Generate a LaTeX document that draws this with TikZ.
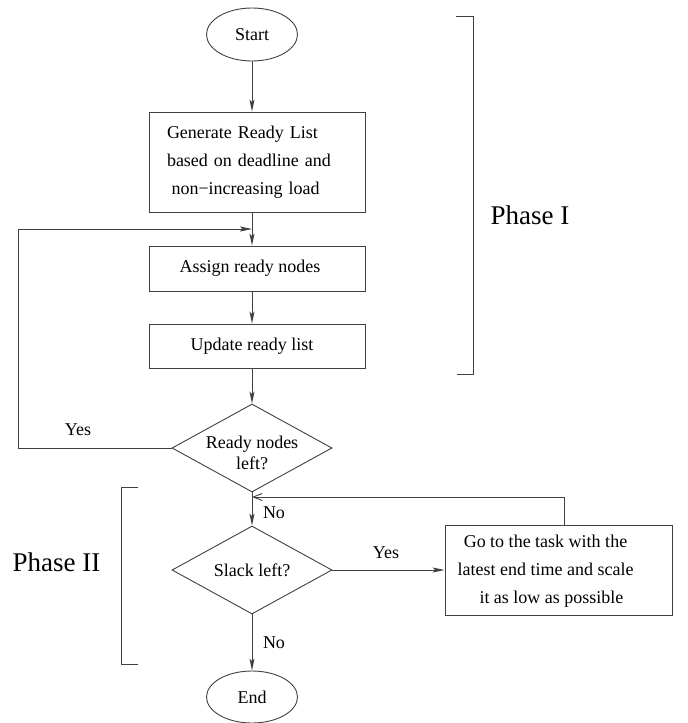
\documentclass[tikz,border=0pt]{standalone}
\usepackage{fontspec}
\setmainfont{Liberation Serif}
\usetikzlibrary{shapes.geometric,arrows.meta}
\definecolor{lc}{gray}{0.25}
\begin{document}
\begin{tikzpicture}[x=1pt,y=-1pt,
  every node/.style={text=black},
  proc/.style={draw=lc, line width=0.9pt, rectangle, inner sep=0pt, minimum width=216pt, font=\fontsize{18}{28}\selectfont},
  term/.style={draw=lc, line width=0.9pt, ellipse, inner sep=0pt, minimum width=91pt, minimum height=53pt, font=\fontsize{18}{22}\selectfont},
  dec/.style={draw=lc, line width=0.9pt, diamond, inner sep=0pt, minimum width=160pt, minimum height=88pt, font=\fontsize{18}{21}\selectfont},
  lbl/.style={inner sep=0pt, font=\fontsize{18}{22}\selectfont},
  phase/.style={inner sep=0pt, font=\fontsize{27}{32}\selectfont},
  conn/.style={draw=lc, line width=0.9pt, -{Stealth[length=12pt,width=5pt,inset=2.5pt]}},
  plain/.style={draw=lc, line width=0.9pt},
  openarr/.style={draw=lc, line width=0.9pt, -{Straight Barb[length=9pt,width=7pt]}}
]
\useasboundingbox (0,0) rectangle (688,723);

\node[term] (start) at (252,34.5) {Start};
\node[proc, minimum height=100pt, text width=180pt, inner xsep=18pt, align=left] (gen) at (257,162)
  {Generate Ready List\\based on deadline and\\\hspace*{4.5pt}non−increasing load};
\node[proc, minimum height=45pt] (assign) at (257,268.5) {Assign ready nodes\hspace*{14pt}};
\node[proc, minimum height=44pt] (update) at (257,346) {Update ready list\hspace*{10pt}};
\node[dec] (dia1) at (252,448) {\makebox[0pt]{\smash{\raisebox{-11pt}{\begin{tabular}{@{}c@{}}Ready nodes\\left?\end{tabular}}}}};
\node[dec, minimum height=88pt] (dia2) at (252,570) {\makebox[0pt]{\smash{\raisebox{-6pt}{Slack left?}}}};
\node[proc, minimum width=227pt, minimum height=90pt] (scale) at (558.5,570)
  {\begin{tabular}{@{}c@{}}Go to the task with the\\latest end time and scale\\\hspace*{12pt}it as low as possible\end{tabular}\hspace*{26pt}};
\node[term, minimum height=52pt] (end) at (252,697) {End};

\coordinate (j1) at (252,229);
\coordinate (j2) at (252,497);

\draw[conn] (start.south) -- (start.south |- gen.north);
\draw[conn] (start |- gen.south) -- (start |- assign.north);
\draw[conn] (start |- assign.south) -- (start |- update.north);
\draw[conn] (start |- update.south) -- (dia1.north);
\draw[conn] (dia1.west) -- (18,448) -- (18,229) -- (j1);
\draw[conn] (dia1.south) -- (dia2.north);
\draw[conn] (dia2.east) -- (scale.west);
\draw[openarr] ([xshift=5.5pt]scale.north) -- ([xshift=5.5pt]scale.north |- j2) -- (j2);
\draw[conn] (dia2.south) -- (end.north);

\node[lbl] (yes1) at (78,430) {Yes};
\node[lbl] (no1) at (274,513) {No};
\node[lbl] (yes2) at (386,553) {Yes};
\node[lbl] (no2) at (274,643) {No};

\draw[plain] (456,16) -- (473,16) -- (473,374) -- (457,374);
\draw[plain] (138,487) -- (121,487) -- (121,664) -- (138,664);
\node[phase] (ph1) at (530,215) {Phase I};
\node[phase] (ph2) at (56.5,562) {Phase II};
\end{tikzpicture}
\end{document}
